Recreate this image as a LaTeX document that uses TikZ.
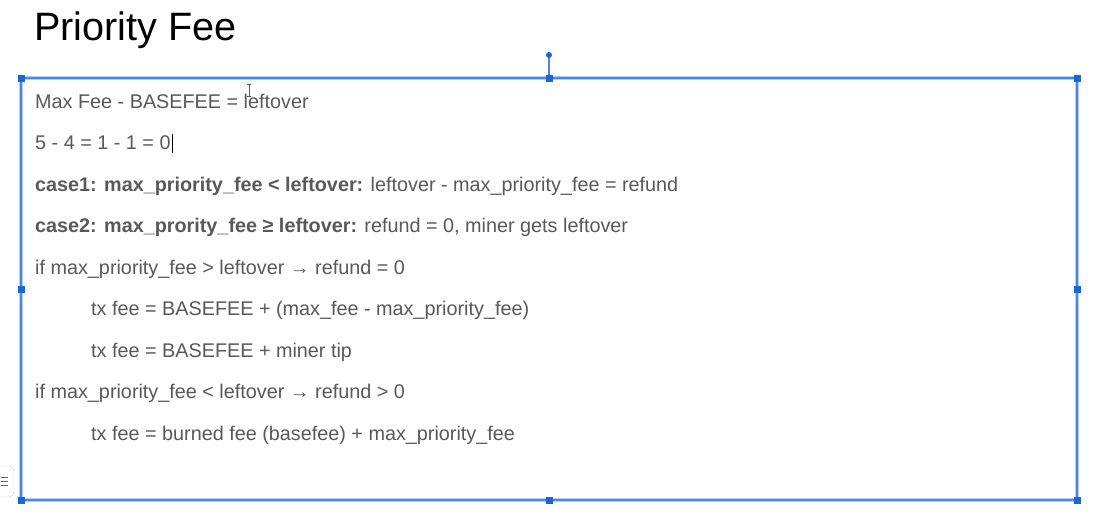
\documentclass[tikz,border=0pt]{standalone}
\usepackage{fontspec}
\setmainfont{Liberation Sans}
\definecolor{txtgray}{HTML}{595959}
\definecolor{selblue}{HTML}{4A86E8}
\definecolor{handleblue}{HTML}{1A67D2}
\begin{document}
\begin{tikzpicture}[x=1pt,y=-1pt,
  line/.style={anchor=base west,inner sep=0pt,text=txtgray,font=\fontsize{19.8}{22}\selectfont},
  handle/.style={fill=handleblue,draw=none,minimum size=7pt,inner sep=0pt,rectangle}]
\useasboundingbox[fill=white] (0,0) rectangle (1104,523);
% title
\node[anchor=base west,inner sep=0pt,font=\fontsize{39.6}{42}\selectfont,text=black] (title) at (34,40) {Priority Fee};
% selection box
\draw[selblue!40,line width=3.5pt] (21,78) rectangle (1077,500);
\draw[selblue,line width=1.6pt] (21,78) rectangle (1077,500);
\coordinate (topmid) at (549,78);
\node[circle,fill=handleblue,inner sep=0pt,minimum size=6pt] (rot) at (549,55) {};
\draw[selblue,line width=1.2pt] (rot) -- (topmid);
\foreach \n/\p in {h1/{(21,78)},h2/{(549,78)},h3/{(1077,78)},h4/{(21,289)},h5/{(1077,289)},h6/{(21,500)},h7/{(549,500)},h8/{(1077,500)}}
  \node[handle] (\n) at \p {};
% side button (partially off-picture)
\draw[gray!40,fill=white,rounded corners=5pt] (-20,466) rectangle (14,497);
\draw[gray!80!black,line width=0.8pt] (1,477)--(8,477) (1,481)--(8,481) (1,485)--(8,485);
% text lines
\node[line] (l1) at (35,108) {Max Fee - BASEFEE = leftover};
\node[line] (l2) at (35,149.5) {5 - 4 = 1 - 1 = 0};
\draw[black,line width=0.9pt] (l2.base east) ++(2,3) -- ++(0,-19);
\node[line] (l3) at (35,191) {\textbf{case1: max\_priority\_fee < leftover:} leftover - max\_priority\_fee = refund};
\node[line] (l4) at (35,232.5) {\textbf{case2: max\_prority\_fee ≥ leftover:} refund = 0, miner gets leftover};
\node[line] (l5) at (35,274) {if max\_priority\_fee > leftover → refund = 0};
\node[line] (l6) at (91,315.5) {tx fee = BASEFEE + (max\_fee - max\_priority\_fee)};
\node[line] (l7) at (91,357) {tx fee = BASEFEE + miner tip};
\node[line] (l8) at (35,398.5) {if max\_priority\_fee < leftover → refund > 0};
\node[line] (l9) at (91,440) {tx fee = burned fee (basefee) + max\_priority\_fee};
% mouse I-beam cursor
\draw[gray!70!black,line width=0.7pt] (249,84)--(249,96) (247,84)--(251,84) (247,96)--(251,96);
\end{tikzpicture}
\end{document}
